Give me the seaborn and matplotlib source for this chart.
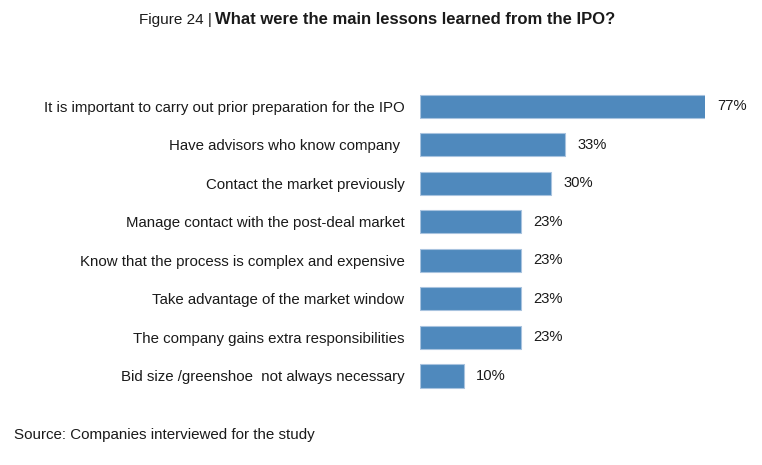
import matplotlib
matplotlib.use("Agg")
import matplotlib.pyplot as plt
import seaborn as sns
import pandas as pd

# ==========
# chart data
lessons = [
    "It is important to carry out prior preparation for the IPO",
    "Have advisors who know company ",
    "Contact the market previously",
    "Manage contact with the post-deal market",
    "Know that the process is complex and expensive",
    "Take advantage of the market window",
    "The company gains extra responsibilities",
    "Bid size /greenshoe  not always necessary",
]
shares = [77, 33, 30, 23, 23, 23, 23, 10]
value_labels = ["77%", "33%", "30%", "23%", "23%", "23%", "23%", "10%"]

df = pd.DataFrame({"lesson": lessons, "share": shares})

bar_color = "#4F89BD"
x_max = 65   # the 77% bar is cut at the edge of the plot, like in the original

sns.set_style("white")
plt.rcParams["font.family"] = ["Liberation Sans", "DejaVu Sans"]

fig = plt.figure(figsize=(7.62, 4.65), dpi=100)
ax = fig.add_axes([0.551, 0.150, 0.374, 0.663])

sns.barplot(
    data=df, x="share", y="lesson", orient="h",
    color=bar_color, saturation=1, width=0.6,
    edgecolor="#A8C3DF", linewidth=0.8, ax=ax,
)

ax.set_xlim(0, x_max)
ax.set_ylim(len(lessons) - 0.5, -0.5)
for bar in ax.patches:
    bar.set_clip_on(True)

# value labels
for i, (v, lab) in enumerate(zip(shares, value_labels)):
    ax.annotate(lab, xy=(min(v, x_max), i), xytext=(9, 0), textcoords="offset points",
                va="center", ha="left", fontsize=10.6, color="#1a1a1a",
                annotation_clip=False)

ax.set_xlabel("")
ax.set_ylabel("")
ax.set_xticks([])
ax.tick_params(axis="y", length=0, pad=11, labelsize=10.8, labelcolor="#1a1a1a")
sns.despine(ax=ax, left=True, bottom=True)

# title in two parts
fig.text(0.278, 0.957, "Figure 24 |", ha="right", va="center", fontsize=11,
         family=["Liberation Sans Narrow", "Liberation Sans", "DejaVu Sans"], color="#1a1a1a")
fig.text(0.282, 0.957, "What were the main lessons learned from the IPO?", ha="left", va="center",
         fontsize=12, fontweight="bold", color="#1a1a1a")

fig.text(0.018, 0.064, "Source: Companies interviewed for the study", ha="left", va="center",
         fontsize=10.9, color="#1a1a1a")

plt.savefig("out.png", dpi=100)
